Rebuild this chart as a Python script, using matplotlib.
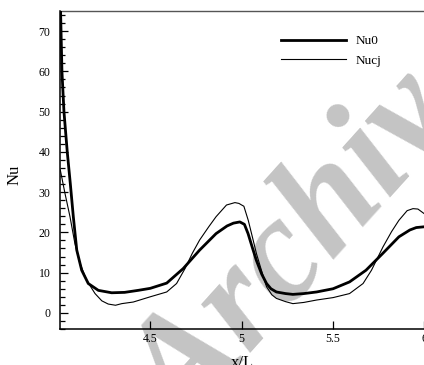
import matplotlib
matplotlib.use('Agg')
import matplotlib.pyplot as plt
from matplotlib.ticker import MultipleLocator

# Nusselt number along the wall, two cases
x_nu0 = [4.008, 4.012, 4.017, 4.028, 4.046, 4.063, 4.079, 4.098, 4.125, 4.161,
         4.216, 4.289, 4.36, 4.434, 4.5, 4.59, 4.68, 4.77, 4.86, 4.92, 4.955,
         4.99, 5.015, 5.035, 5.06, 5.08, 5.11, 5.136, 5.16, 5.19, 5.24, 5.28,
         5.34, 5.41, 5.5, 5.59, 5.68, 5.77, 5.86, 5.92, 5.955, 6.0]
nu0 = [78.0, 70.0, 60.0, 50.0, 40.0, 32.0, 24.0, 15.6, 10.6, 7.3,
       5.6, 5.0, 5.1, 5.6, 6.1, 7.4, 11.0, 15.6, 19.7, 21.6, 22.3,
       22.6, 22.0, 19.7, 16.0, 13.1, 9.6, 7.3, 6.0, 5.2, 4.8, 4.6,
       4.8, 5.2, 6.0, 7.7, 10.6, 14.7, 18.9, 20.6, 21.2, 21.4]

x_nucj = [4.008, 4.016, 4.034, 4.061, 4.088, 4.116, 4.152, 4.198, 4.235, 4.27,
          4.31, 4.344, 4.407, 4.5, 4.59, 4.644, 4.69, 4.73, 4.77, 4.82, 4.86,
          4.917, 4.963, 4.985, 5.0, 5.012, 5.036, 5.06, 5.081, 5.11, 5.136,
          5.165, 5.19, 5.24, 5.28, 5.34, 5.41, 5.5, 5.59, 5.664, 5.71, 5.773,
          5.82, 5.86, 5.905, 5.937, 5.964, 6.0]
nucj = [35.5, 33.7, 29.6, 23.9, 17.2, 12.3, 8.1, 4.8, 3.0, 2.2,
        1.9, 2.3, 2.7, 4.0, 5.2, 7.3, 11.0, 14.8, 18.1, 21.4, 23.9,
        26.8, 27.4, 27.2, 26.8, 26.5, 23.0, 18.6, 14.7, 10.3, 6.5,
        4.5, 3.6, 2.8, 2.3, 2.6, 3.2, 3.8, 4.8, 7.3, 10.6, 16.4,
        20.2, 23.0, 25.4, 25.9, 25.8, 24.6]

y_ticks = [0, 10, 20, 30, 40, 50, 60, 70]
x_ticks = [4.5, 5.0, 5.5, 6.0]
x_tick_labels = ['4.5', '5', '5.5', '6']

plt.rcParams['font.family'] = ['Liberation Serif', 'DejaVu Serif']

W, H = 424, 365
fig = plt.figure(figsize=(W / 100, H / 100), dpi=100)
# axes box in pixels: left 60.3, right 424.5, top 11, bottom 329
ax = fig.add_axes([60.3 / W, 1 - 329 / H, (424.5 - 60.3) / W, (329 - 11) / H])

# watermark behind the curves
fig.text(320 / W, 1 - 230 / H, 'Archive', fontsize=108, color='#c4c4c4',
         fontweight='bold', fontstyle='italic', rotation=48,
         ha='center', va='center', rotation_mode='anchor', zorder=-1)
ax.patch.set_alpha(0)

ax.plot(x_nu0, nu0, color='black', lw=2.0, label='Nu0', zorder=3)
ax.plot(x_nucj, nucj, color='black', lw=0.8, label='Nucj', zorder=3)

ax.set_xlim(4.008, 6.0)
ax.set_ylim(-4, 75)
ax.set_xticks(x_ticks)
ax.set_xticklabels(x_tick_labels)
ax.set_yticks(y_ticks)
ax.yaxis.set_minor_locator(MultipleLocator(2))

ax.tick_params(axis='both', which='both', direction='in', labelsize=8.5,
               top=False, right=False, colors='black')
ax.tick_params(axis='y', which='major', length=6, width=0.9, pad=7)
ax.tick_params(axis='y', which='minor', length=3.5, width=0.9)
ax.tick_params(axis='x', which='major', length=6, width=0.9, pad=3)

for s in ['left', 'bottom']:
    ax.spines[s].set_linewidth(1.1)
ax.spines['top'].set_linewidth(1.0)
ax.spines['top'].set_color('#555555')
ax.spines['right'].set_visible(False)

fig.text(15 / W, 1 - 175 / H, 'Nu', fontsize=12, rotation=90,
         ha='center', va='center')
fig.text(242 / W, 1 - 367 / H, 'x/L', fontsize=12, ha='center',
         va='baseline')

ax.legend(loc='upper left', bbox_to_anchor=(281 / W, 1 - 35 / H),
          bbox_transform=fig.transFigure, frameon=False, fontsize=9.5,
          handlelength=4.9, handletextpad=0.75, labelspacing=0.55,
          borderpad=0, borderaxespad=0)

fig.savefig('out.png', dpi=100)
